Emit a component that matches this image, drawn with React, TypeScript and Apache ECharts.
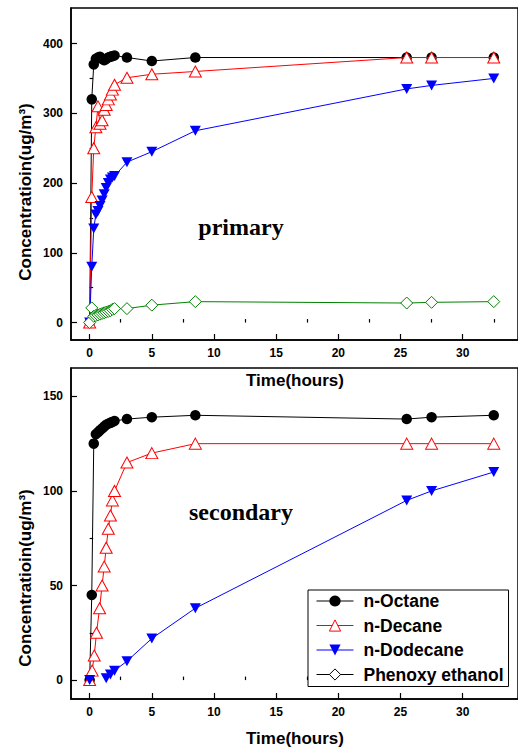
import React, { useEffect, useRef } from "react";
import * as echarts from "echarts";

// ---- data ----
const hours = [0, 0.17, 0.33, 0.5, 0.67, 0.83, 1.0, 1.17, 1.33, 1.5, 1.67, 1.83, 2.0, 3, 5, 8.5, 25.5, 27.5, 32.5];
const priOctane = [0, 320, 370, 378, 380, 381, 378, 376, 378, 380, 381, 382, 383, 380, 375, 380, 380, 380, 380];
const priDecane = [0, 180, 250, 280, 310, 285, 290, 305, 312, 320, 327, 334, 341, 351, 356, 360, 380, 380, 380];
const priDodecane = [0, 80, 135, 155, 160, 167, 175, 184, 193, 200, 205, 208, 210, 230, 245, 275, 335, 340, 350];
const priPhenoxy = [0, 21, 9, 10, 11, 12, 13, 14, 15, 16, 17, 19, 20, 20, 25, 30, 28, 29, 30];

const secOctane = [0, 45, 125, 130, 131, 132, 133, 134, 135, 135.5, 136, 136.5, 137, 138, 139, 140, 138, 139, 140];
const secDecaneHours = [0, 0.2, 0.37, 0.55, 0.8, 1.0, 1.17, 1.33, 1.5, 1.67, 1.83, 2.0, 3, 5, 8.5, 25.5, 27.5, 32.5];
const secDecane = [0, 5, 13, 25, 38, 50, 60, 70, 80, 87, 95, 100, 115, 120, 125, 125, 125, 125];
const secDodecaneHours = [0, 1, 1.33, 1.67, 2.0, 3, 5, 8.5, 25.5, 27.5, 32.5];
const secDodecane: (number | null)[] = [0, null, 1, 3, 5, 10, 22, 38, 95, 100, 110];

const seriesNames = ["n-Octane", "n-Decane", "n-Dodecane", "Phenoxy ethanol"];

const xMajor = [0, 5, 10, 15, 20, 25, 30];
const xMinor = [2.5, 7.5, 12.5, 17.5, 22.5, 27.5, 32.5];
const yPriMajor = [0, 100, 200, 300, 400];
const yPriMinor = [50, 150, 250, 350];
const ySecMajor = [0, 50, 100, 150];
const ySecMinor = [25, 75, 125];

const pairs = (t: number[], v: (number | null)[]) => t.map((x, i) => [x, v[i]]);

const FONT = "'Liberation Sans', Arial, sans-serif";
const INVTRI = "path://M0,0 L10,0 L5,9 Z";

export default function App() {
  const ref = useRef<HTMLDivElement>(null);
  useEffect(() => {
    const chart = echarts.init(ref.current!, null, { renderer: "svg" });

    const X_MIN = -1.5, X_MAX = 34.45;
    const gridTop = { left: 71, top: 8, right: -10, height: 332 };
    const gridBot = { left: 71, top: 368, right: -10, height: 331 };

    const lbl = { fontFamily: FONT, fontWeight: "bold" as const, fontSize: 12, color: "#000" };

    const majorX = (gi: number) => ({
      type: "value", gridIndex: gi, min: X_MIN, max: X_MAX,
      axisLine: { show: true, onZero: false, lineStyle: { color: "#000", width: 1.5 } },
      axisTick: { show: true, inside: true, length: 6, customValues: xMajor, lineStyle: { color: "#000", width: 1.2 } },
      axisLabel: { show: true, customValues: xMajor, margin: 7, ...lbl },
      splitLine: { show: false },
    });
    const minorX = (gi: number) => ({
      type: "value", gridIndex: gi, min: X_MIN, max: X_MAX,
      axisLine: { show: false },
      axisTick: { show: true, inside: true, length: 3.5, customValues: xMinor, lineStyle: { color: "#000", width: 1.2 } },
      axisLabel: { show: false },
      splitLine: { show: false },
    });
    const majorY = (gi: number, min: number, max: number, vals: number[]) => ({
      type: "value", gridIndex: gi, min, max,
      axisLine: { show: true, onZero: false, lineStyle: { color: "#000", width: 1.5 } },
      axisTick: { show: true, inside: true, length: 6, customValues: vals, lineStyle: { color: "#000", width: 1.2 } },
      axisLabel: { show: true, customValues: vals, margin: 8, ...lbl },
      splitLine: { show: false },
    });
    const minorY = (gi: number, min: number, max: number, vals: number[]) => ({
      type: "value", gridIndex: gi, min, max,
      axisLine: { show: false },
      axisTick: { show: true, inside: true, length: 3.5, customValues: vals, lineStyle: { color: "#000", width: 1.2 } },
      axisLabel: { show: false },
      splitLine: { show: false },
    });

    const mk = (name: string, data: any[], axis: number, kind: number) => {
      const base: any = {
        name, type: "line", xAxisIndex: axis, yAxisIndex: axis, data,
        connectNulls: false, silent: true,
      };
      if (kind === 0) {
        return { ...base, z: 2, symbol: "circle", symbolSize: 10.5, lineStyle: { color: "#000", width: 1 }, itemStyle: { color: "#000" } };
      }
      if (kind === 1) {
        return { ...base, z: 3, symbol: "triangle", symbolSize: [12, 11], lineStyle: { color: "#ff0000", width: 1 }, itemStyle: { color: "#fff", borderColor: "#ff0000", borderWidth: 1 } };
      }
      if (kind === 2) {
        return { ...base, z: 4, symbol: INVTRI, symbolSize: [11, 10], lineStyle: { color: "#0000ff", width: 1 }, itemStyle: { color: "#0000ff" } };
      }
      return { ...base, z: 5, symbol: "diamond", symbolSize: [12, 12], lineStyle: { color: "#008000", width: 1 }, itemStyle: { color: "#fff", borderColor: "#008000", borderWidth: 1 } };
    };

    const titleFont = `bold 17px ${FONT}`;

    const option: any = {
      animation: false,
      backgroundColor: "#fff",
      grid: [
        { ...gridTop, show: true, borderColor: "#000", borderWidth: 1.5, backgroundColor: "transparent" },
        { ...gridTop, show: false },
        { ...gridBot, show: true, borderColor: "#000", borderWidth: 1.5, backgroundColor: "transparent" },
        { ...gridBot, show: false },
      ],
      xAxis: [majorX(0), minorX(1), majorX(2), minorX(3)],
      yAxis: [
        majorY(0, -25, 451, yPriMajor),
        minorY(1, -25, 451, yPriMinor),
        majorY(2, -10, 165, ySecMajor),
        minorY(3, -10, 165, ySecMinor),
      ],
      legend: {
        show: true,
        orient: "vertical",
        left: 308,
        top: 590,
        padding: [2, 5, 3, 8],
        itemWidth: 37,
        itemHeight: 14,
        itemGap: 6.5,
        backgroundColor: "#fff",
        borderColor: "#000",
        borderWidth: 1,
        selectedMode: false,
        textStyle: { fontFamily: FONT, fontWeight: "bold", fontSize: 17.5, color: "#000", padding: [0, 0, 0, 5] },
        data: [
          { name: seriesNames[0], itemStyle: { color: "#000" }, lineStyle: { color: "#000", width: 1 } },
          { name: seriesNames[1], itemStyle: { color: "#fff", borderColor: "#ff0000", borderWidth: 1 }, lineStyle: { color: "#ff0000", width: 1 } },
          { name: seriesNames[2], itemStyle: { color: "#0000ff" }, lineStyle: { color: "#0000ff", width: 1 } },
          { name: seriesNames[3], itemStyle: { color: "#fff", borderColor: "#000", borderWidth: 1 }, lineStyle: { color: "#000", width: 1 } },
        ],
      },
      graphic: [
        { type: "text", x: 295, y: 380, style: { text: "Time(hours)", font: titleFont, fill: "#000", textAlign: "center", textVerticalAlign: "middle" } },
        { type: "text", x: 295, y: 738, style: { text: "Time(hours)", font: titleFont, fill: "#000", textAlign: "center", textVerticalAlign: "middle" } },
        { type: "text", x: 25, y: 192, rotation: Math.PI / 2, style: { text: "Concentratioin(ug/m³)", font: titleFont, fill: "#000", textAlign: "center", textVerticalAlign: "middle" } },
        { type: "text", x: 25, y: 578, rotation: Math.PI / 2, style: { text: "Concentratioin(ug/m³)", font: titleFont, fill: "#000", textAlign: "center", textVerticalAlign: "middle" } },
        { type: "text", x: 241, y: 227, style: { text: "primary", font: "bold 24px 'Liberation Serif', 'Times New Roman', serif", fill: "#000", textAlign: "center", textVerticalAlign: "middle" } },
        { type: "text", x: 241, y: 512, style: { text: "secondary", font: "bold 24px 'Liberation Serif', 'Times New Roman', serif", fill: "#000", textAlign: "center", textVerticalAlign: "middle" } },
      ],
      series: [
        mk(seriesNames[0], pairs(hours, priOctane), 0, 0),
        mk(seriesNames[1], pairs(hours, priDecane), 0, 1),
        mk(seriesNames[2], pairs(hours, priDodecane), 0, 2),
        mk(seriesNames[3], pairs(hours, priPhenoxy), 0, 3),
        mk(seriesNames[0], pairs(hours, secOctane), 2, 0),
        mk(seriesNames[1], pairs(secDecaneHours, secDecane), 2, 1),
        mk(seriesNames[2], pairs(secDodecaneHours, secDodecane), 2, 2),
      ],
    };

    chart.setOption(option);
    return () => chart.dispose();
  }, []);
  return <div ref={ref} style={{ position: "absolute", left: 0, top: 0, width: 518, height: 751 }} />;
}
